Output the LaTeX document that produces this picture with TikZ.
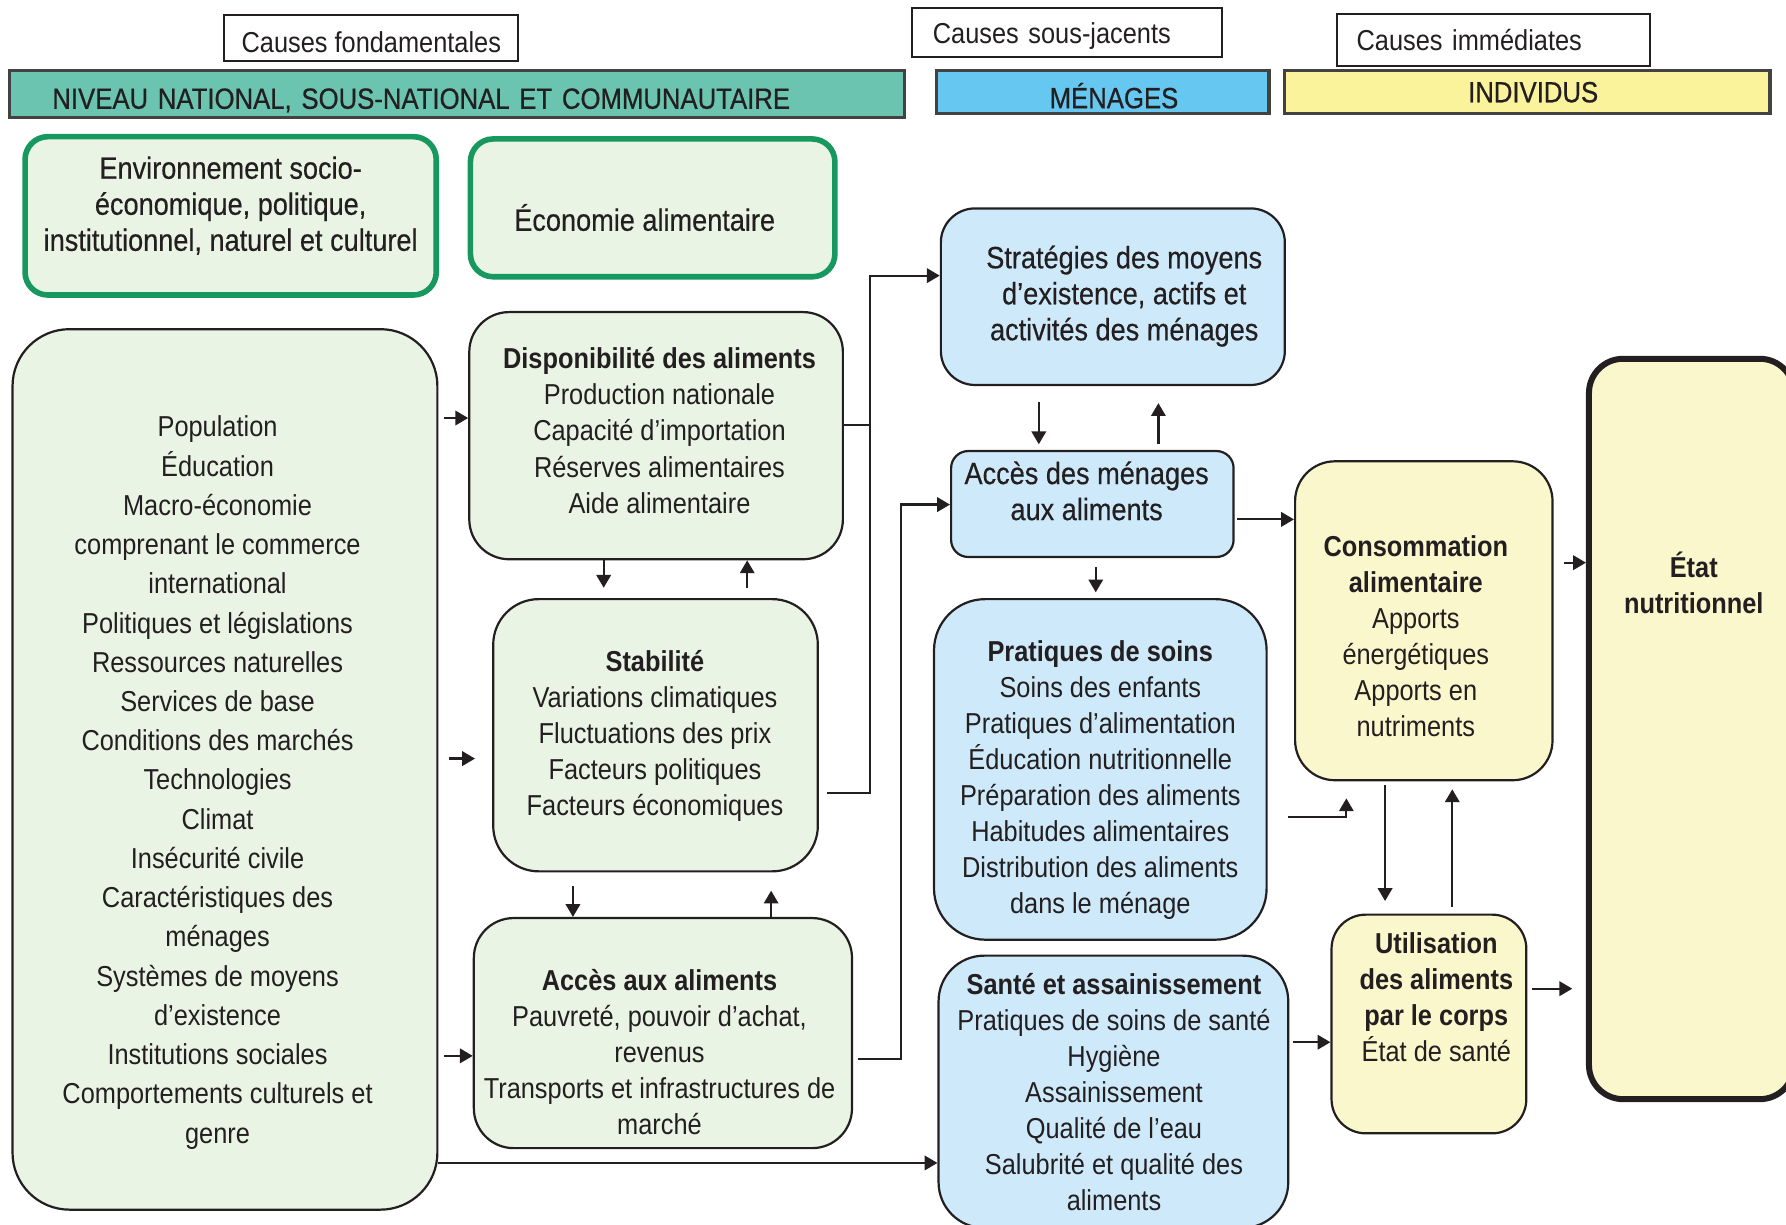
\documentclass[tikz,border=0pt]{standalone}
\usepackage{fontspec}
\setmainfont{Liberation Sans}[FakeStretch=0.88]
\usetikzlibrary{arrows.meta, calc}

\definecolor{bandteal}{RGB}{106,196,175}
\definecolor{bandblue}{RGB}{102,200,240}
\definecolor{bandyellow}{RGB}{250,243,155}
\definecolor{boxgreen}{RGB}{234,244,229}
\definecolor{edgegreen}{RGB}{22,152,94}
\definecolor{boxblue}{RGB}{206,234,250}
\definecolor{boxyellow}{RGB}{251,247,204}
\definecolor{inkgray}{RGB}{35,31,32}

\begin{document}
\begin{tikzpicture}[
    txt/.style={font=\fontsize{7.2}{9}\selectfont, text=inkgray, align=center, inner sep=0pt},
    bigtxt/.style={txt, font=\fontsize{7.7}{9}\selectfont\addfontfeatures{FakeBold=0.4}},
    causebox/.style={txt, rectangle, draw=inkgray, line width=0.5pt, fill=white},
    bandbox/.style={txt, rectangle, draw=inkgray!85, line width=0.8pt, font=\fontsize{7.3}{9}\selectfont\addfontfeatures{FakeBold=0.6}},
    envbox/.style={rectangle, draw=edgegreen, line width=1.4pt, rounded corners=0.2cm, fill=boxgreen},
    greenbox/.style={rectangle, draw=inkgray, line width=0.55pt, fill=boxgreen},
    bluebox/.style={rectangle, draw=inkgray, line width=0.55pt, fill=boxblue},
    yellowbox/.style={rectangle, draw=inkgray, line width=0.55pt, fill=boxyellow},
    arrow/.style={-{Triangle[length=3.2pt, width=3.6pt]}, line width=0.55pt, draw=inkgray}
]

    \useasboundingbox (0,0) rectangle (15.68,-10.75);

    % Causes
    \node[causebox, minimum width=2.58cm, minimum height=0.41cm, text height=0.26cm, text depth=0cm] (fondCause) at (3.26,-0.335) {Causes fondamentales};
    \node[causebox, minimum width=2.72cm, minimum height=0.43cm, text width=2.36cm, align=left, text height=0.25cm, text depth=0.05cm] (sousCause) at (9.37,-0.285) {Causes sous-jacents};
    \node[causebox, minimum width=2.75cm, minimum height=0.46cm, text width=2.41cm, align=left] (immCause) at (13.115,-0.35) {Causes immédiates};

    % Levels
    \node[bandbox, fill=bandteal, minimum width=7.86cm, minimum height=0.41cm, text width=7.1cm, align=left, text height=0.26cm, text depth=0cm] (natBand) at (4.01,-0.825) {NIVEAU NATIONAL, SOUS-NATIONAL ET COMMUNAUTAIRE};
    \node[bandbox, fill=bandblue, minimum width=2.92cm, minimum height=0.38cm, text height=0.28cm, text depth=0cm] (menBand) at (9.68,-0.81) {\hspace{0.2cm}MÉNAGES};
    \node[bandbox, fill=bandyellow, minimum width=4.26cm, minimum height=0.38cm] (indBand) at (13.41,-0.81) {\hspace{0.1cm}INDIVIDUS};

    % Environment and food economy
    \node[envbox, minimum width=3.61cm, minimum height=1.39cm] (envBox) at (2.025,-1.895) {};
    \node[bigtxt] (envText) at (2.025,-1.805) {Environnement socio-\\économique, politique,\\institutionnel, naturel et culturel};
    \node[envbox, minimum width=3.20cm, minimum height=1.21cm] (ecoBox) at (5.73,-1.825) {};
    \node[bigtxt] (ecoText) at (5.66,-1.91) {Économie alimentaire};

    % Left column
    \node[greenbox, rounded corners=0.5cm, minimum width=3.73cm, minimum height=7.73cm] (leftBox) at (1.975,-6.755) {};
    \node[txt, font=\fontsize{7.2}{9.8}\selectfont] (leftText) at (1.91,-6.87) {Population\\Éducation\\Macro-économie\\comprenant le commerce\\international\\Politiques et législations\\Ressources naturelles\\Services de base\\Conditions des marchés\\Technologies\\Climat\\Insécurité civile\\Caractéristiques des\\ménages\\Systèmes de moyens\\d’existence\\Institutions sociales\\Comportements culturels et\\genre};

    % Availability, stability, access
    \node[greenbox, rounded corners=0.35cm, minimum width=3.28cm, minimum height=2.17cm] (disBox) at (5.76,-3.825) {};
    \node[txt] (disText) at (5.79,-3.78) {\textbf{Disponibilité des aliments}\\Production nationale\\Capacité d’importation\\Réserves alimentaires\\Aide alimentaire};
    \node[greenbox, rounded corners=0.4cm, minimum width=2.85cm, minimum height=2.39cm] (staBox) at (5.755,-6.455) {};
    \node[txt] (staText) at (5.75,-6.46) {\textbf{Stabilité}\\Variations climatiques\\Fluctuations des prix\\Facteurs politiques\\Facteurs économiques};
    \node[greenbox, rounded corners=0.35cm, minimum width=3.32cm, minimum height=2.02cm] (accBox) at (5.82,-9.07) {};
    \node[txt] (accText) at (5.79,-9.24) {\textbf{Accès aux aliments}\\Pauvreté, pouvoir d’achat,\\revenus\\Transports et infrastructures de\\marché};

    % Households
    \node[bluebox, rounded corners=0.3cm, minimum width=3.02cm, minimum height=1.55cm] (straBox) at (9.77,-2.605) {};
    \node[bigtxt] (straText) at (9.87,-2.6) {Stratégies des moyens\\d’existence, actifs et\\activités des ménages};
    \node[bluebox, rounded corners=0.15cm, minimum width=2.48cm, minimum height=0.93cm] (menBox) at (9.59,-4.425) {};
    \node[bigtxt] (menText) at (9.54,-4.31) {Accès des ménages\\aux aliments};
    \node[bluebox, rounded corners=0.45cm, minimum width=2.92cm, minimum height=2.99cm] (praBox) at (9.66,-6.755) {};
    \node[txt] (praText) at (9.66,-6.85) {\textbf{Pratiques de soins}\\Soins des enfants\\Pratiques d’alimentation\\Éducation nutritionnelle\\Préparation des aliments\\Habitudes alimentaires\\Distribution des aliments\\dans le ménage};
    \node[bluebox, rounded corners=0.4cm, minimum width=3.07cm, minimum height=2.39cm] (sanBox) at (9.775,-9.585) {};
    \node[txt] (sanText) at (9.78,-9.585) {\textbf{Santé et assainissement}\\Pratiques de soins de santé\\Hygiène\\Assainissement\\Qualité de l’eau\\Salubrité et qualité des\\aliments};

    % Individuals
    \node[yellowbox, rounded corners=0.35cm, minimum width=2.26cm, minimum height=2.80cm] (conBox) at (12.50,-5.45) {};
    \node[txt] (conText) at (12.43,-5.585) {\textbf{Consommation}\\\textbf{alimentaire}\\Apports\\énergétiques\\Apports en\\nutriments};
    \node[yellowbox, rounded corners=0.3cm, minimum width=1.71cm, minimum height=1.92cm] (utiBox) at (12.545,-8.99) {};
    \node[txt] (utiText) at (12.61,-8.755) {\textbf{Utilisation}\\\textbf{des aliments}\\\textbf{par le corps}\\État de santé};
    \node[yellowbox, line width=1.5pt, rounded corners=0.3cm, minimum width=1.80cm, minimum height=6.50cm] (etaBox) at (14.85,-6.40) {};
    \node[txt] (etaText) at (14.87,-5.115) {\textbf{État}\\\textbf{nutritionnel}};

    % Arrows from the left column
    \draw[arrow, shorten <=0.5mm] (leftBox.east |- 0,-3.67) -- (disBox.west |- 0,-3.67);
    \draw[arrow, shorten <=0.9mm, shorten >=1.5mm] (leftBox.east |- 0,-6.66) -- (staBox.west |- 0,-6.66);
    \draw[arrow, shorten <=0.5mm] (leftBox.east |- 0,-9.27) -- (accBox.west |- 0,-9.27);
    \draw[arrow] (leftBox.east |- 0,-10.21) -- (sanBox.west |- 0,-10.21);

    % Between availability, stability and access
    \draw[arrow, shorten >=0.9mm] (disBox.south -| 5.30,0) -- (staBox.north -| 5.30,0);
    \draw[arrow, shorten <=0.9mm] (staBox.north -| 6.56,0) -- (disBox.south -| 6.56,0);
    \draw[arrow, shorten <=1.2mm] (staBox.south -| 5.03,0) -- (accBox.north -| 5.03,0);
    \draw[arrow, shorten >=1.6mm] (accBox.north -| 6.77,0) -- (staBox.south -| 6.77,0);

    % To household strategies and access
    \coordinate (jctA) at (7.64,-2.42);
    \coordinate (jctB) at (7.91,-4.43);
    \draw[line width=0.55pt, inkgray] (disBox.east |- 0,-3.73) -- (jctA |- 0,-3.73);
    \draw[arrow, shorten <=0.7mm] (staBox.east |- 0,-6.96) -- (jctA |- 0,-6.96) -- (jctA) -- (straBox.west |- jctA);
    \draw[arrow, shorten <=0.4mm] (accBox.east |- 0,-9.30) -- (jctB |- 0,-9.30) -- (jctB) -- (menBox.west |- jctB);

    % Household level
    \draw[arrow, shorten <=1.4mm, shorten >=0.5mm] (straBox.south -| 9.12,0) -- (menBox.north -| 9.12,0);
    \draw[arrow, shorten <=0.5mm, shorten >=1.5mm] (menBox.north -| 10.17,0) -- (straBox.south -| 10.17,0);
    \draw[arrow, shorten <=0.8mm, shorten >=0.5mm] (menBox.south -| 9.62,0) -- (praBox.north -| 9.62,0);
    \draw[arrow, shorten <=0.2mm] (menBox.east |- 0,-4.56) -- (conBox.west |- 0,-4.56);
    \draw[arrow, shorten <=1.8mm, shorten >=1.5mm] (praBox.east |- 0,-7.17) -| (conBox.south -| 11.82,0);
    \draw[arrow, shorten <=0.3mm] (sanBox.east |- 0,-9.15) -- (utiBox.west |- 0,-9.15);

    % Individual level
    \draw[arrow, shorten <=0.3mm, shorten >=1.1mm] (conBox.south -| 12.16,0) -- (utiBox.north -| 12.16,0);
    \draw[arrow, shorten <=0.6mm, shorten >=0.7mm] (utiBox.north -| 12.75,0) -- (conBox.south -| 12.75,0);
    \draw[arrow, shorten <=0.9mm] (conBox.east |- 0,-4.94) -- (etaBox.west |- 0,-4.94);
    \draw[arrow, shorten <=0.4mm, shorten >=1.2mm] (utiBox.east |- 0,-8.68) -- (etaBox.west |- 0,-8.68);

\end{tikzpicture}
\end{document}
